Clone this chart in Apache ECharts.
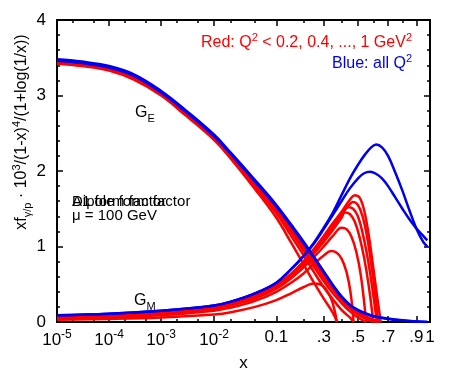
<!DOCTYPE html>
<html>
<head>
<meta charset="utf-8">
<script src="https://cdn.jsdelivr.net/npm/echarts@6/dist/echarts.min.js"></script>
<style>
html, body { margin: 0; padding: 0; background: #fff; }
#chart { width: 457px; height: 372px; }
</style>
</head>
<body>
<div id="chart"></div>
<script>
// x axis is drawn on a ln(x) + 5x scale
const xTicks = [1e-5, 1e-4, 1e-3, 1e-2, 0.1, 0.3, 0.5, 0.7, 0.9, 1];
const xTickLabels = ['{b|10}{s|-5}', '{b|10}{s|-4}', '{b|10}{s|-3}', '{b|10}{s|-2}', '0.1', '.3', '.5', '.7', '.9', '1'];
const xMinorTicks = [2e-5, 5e-5, 2e-4, 5e-4, 2e-3, 5e-3, 0.02, 0.05, 0.2, 0.4, 0.6, 0.8];

// G_E, all Q2 (blue)
const geBlueA = [[1e-5,3.48],[3e-5,3.45],[1e-4,3.39],[3e-4,3.28],[1e-3,3.06],[3e-3,2.80],[0.01,2.48],[0.02,2.24],[0.05,1.88],[0.1,1.55],[0.15,1.29],[0.2,1.07],[0.25,0.86],[0.3,0.67],[0.35,0.49],[0.4,0.34],[0.45,0.23],[0.5,0.16],[0.55,0.115],[0.6,0.08],[0.7,0.045],[0.8,0.022],[0.9,0.008],[0.98,0]];
const geBlueB = [[1e-5,3.46],[3e-5,3.43],[1e-4,3.37],[3e-4,3.26],[1e-3,3.04],[3e-3,2.78],[0.01,2.46],[0.02,2.22],[0.05,1.86],[0.1,1.53],[0.15,1.27],[0.2,1.05],[0.25,0.85],[0.3,0.66],[0.35,0.48],[0.4,0.33],[0.45,0.22],[0.5,0.155],[0.55,0.11],[0.6,0.075],[0.7,0.04],[0.8,0.02],[0.9,0.007],[0.98,0]];

// G_E, Q2 cuts (red)
const geRed1 = [[1e-5,3.42],[3e-5,3.39],[1e-4,3.33],[3e-4,3.21],[1e-3,3.00],[3e-3,2.73],[0.01,2.41],[0.02,2.16],[0.05,1.76],[0.1,1.38],[0.15,1.05],[0.2,0.77],[0.25,0.52],[0.3,0.31],[0.35,0.12],[0.373,0]];
const geRed2 = [[1e-5,3.43],[3e-5,3.40],[1e-4,3.34],[3e-4,3.22],[1e-3,3.01],[3e-3,2.75],[0.01,2.43],[0.02,2.18],[0.05,1.79],[0.1,1.44],[0.15,1.14],[0.2,0.89],[0.25,0.66],[0.3,0.46],[0.35,0.30],[0.4,0.16],[0.45,0.06],[0.473,0]];
const geRed3 = [[1e-5,3.43],[3e-5,3.40],[1e-4,3.35],[3e-4,3.23],[1e-3,3.02],[3e-3,2.76],[0.01,2.44],[0.02,2.19],[0.05,1.81],[0.1,1.47],[0.15,1.19],[0.2,0.95],[0.25,0.73],[0.3,0.54],[0.35,0.38],[0.4,0.25],[0.45,0.14],[0.5,0.06],[0.553,0]];
const geRed4 = [[1e-5,3.44],[3e-5,3.41],[1e-4,3.35],[3e-4,3.24],[1e-3,3.03],[3e-3,2.77],[0.01,2.45],[0.02,2.20],[0.05,1.83],[0.1,1.49],[0.15,1.22],[0.2,0.99],[0.25,0.78],[0.3,0.59],[0.35,0.43],[0.4,0.29],[0.45,0.18],[0.5,0.10],[0.55,0.04],[0.6,0]];
const geRed5 = [[1e-5,3.44],[3e-5,3.42],[1e-4,3.36],[3e-4,3.24],[1e-3,3.03],[3e-3,2.77],[0.01,2.45],[0.02,2.21],[0.05,1.84],[0.1,1.50],[0.15,1.23],[0.2,1.00],[0.25,0.80],[0.3,0.61],[0.35,0.45],[0.4,0.31],[0.45,0.20],[0.5,0.12],[0.55,0.06],[0.6,0.02],[0.624,0]];
const geRed6 = [[1e-5,3.45],[3e-5,3.42],[1e-4,3.36],[3e-4,3.25],[1e-3,3.04],[3e-3,2.78],[0.01,2.46],[0.02,2.21],[0.05,1.85],[0.1,1.51],[0.15,1.24],[0.2,1.01],[0.25,0.81],[0.3,0.62],[0.35,0.46],[0.4,0.32],[0.45,0.21],[0.5,0.13],[0.55,0.07],[0.6,0.03],[0.633,0]];
const geRed7 = [[1e-5,3.45],[3e-5,3.42],[1e-4,3.36],[3e-4,3.25],[1e-3,3.04],[3e-3,2.78],[0.01,2.46],[0.02,2.22],[0.05,1.85],[0.1,1.52],[0.15,1.25],[0.2,1.03],[0.25,0.82],[0.3,0.63],[0.35,0.46],[0.4,0.32],[0.45,0.21],[0.5,0.13],[0.55,0.07],[0.6,0.03],[0.65,0]];

// G_M, all Q2 (blue)
const gmBlueA = [[1e-5,0.09],[1e-4,0.11],[1e-3,0.15],[0.01,0.22],[0.02,0.27],[0.05,0.38],[0.1,0.52],[0.15,0.70],[0.2,0.87],[0.25,1.05],[0.3,1.25],[0.35,1.45],[0.4,1.68],[0.45,1.90],[0.5,2.08],[0.55,2.23],[0.59,2.32],[0.62,2.35],[0.66,2.31],[0.7,2.20],[0.75,1.98],[0.8,1.74],[0.85,1.48],[0.9,1.24],[0.95,1.06],[0.98,1.00]];
const gmBlueB = [[1e-5,0.09],[1e-4,0.11],[1e-3,0.15],[0.01,0.22],[0.02,0.27],[0.05,0.38],[0.1,0.52],[0.15,0.70],[0.2,0.87],[0.25,1.04],[0.3,1.23],[0.35,1.42],[0.4,1.60],[0.45,1.77],[0.5,1.90],[0.54,1.97],[0.58,1.99],[0.62,1.96],[0.66,1.90],[0.7,1.80],[0.75,1.65],[0.8,1.50],[0.85,1.36],[0.9,1.24],[0.95,1.14],[0.98,1.08]];

// G_M, Q2 cuts (red)
const gmRed1 = [[1e-5,0.03],[1e-4,0.04],[1e-3,0.06],[0.01,0.10],[0.02,0.13],[0.05,0.20],[0.1,0.29],[0.15,0.38],[0.2,0.46],[0.25,0.51],[0.28,0.50],[0.31,0.44],[0.34,0.31],[0.36,0.15],[0.373,0]];
const gmRed2 = [[1e-5,0.045],[1e-4,0.06],[1e-3,0.09],[0.01,0.15],[0.02,0.19],[0.05,0.28],[0.1,0.40],[0.15,0.52],[0.2,0.64],[0.25,0.77],[0.3,0.88],[0.34,0.94],[0.37,0.92],[0.4,0.84],[0.43,0.66],[0.455,0.38],[0.473,0]];
const gmRed3 = [[1e-5,0.055],[1e-4,0.07],[1e-3,0.11],[0.01,0.17],[0.02,0.22],[0.05,0.31],[0.1,0.44],[0.15,0.58],[0.2,0.72],[0.25,0.86],[0.3,1.00],[0.35,1.14],[0.4,1.25],[0.43,1.23],[0.46,1.13],[0.49,0.93],[0.52,0.60],[0.553,0]];
const gmRed4 = [[1e-5,0.06],[1e-4,0.08],[1e-3,0.12],[0.01,0.18],[0.02,0.23],[0.05,0.33],[0.1,0.46],[0.15,0.61],[0.2,0.76],[0.25,0.91],[0.3,1.06],[0.35,1.22],[0.4,1.38],[0.42,1.45],[0.45,1.43],[0.48,1.33],[0.51,1.13],[0.54,0.85],[0.57,0.48],[0.6,0]];
const gmRed5 = [[1e-5,0.065],[1e-4,0.085],[1e-3,0.125],[0.01,0.19],[0.02,0.24],[0.05,0.34],[0.1,0.47],[0.15,0.62],[0.2,0.78],[0.25,0.93],[0.3,1.09],[0.35,1.25],[0.4,1.41],[0.44,1.52],[0.47,1.50],[0.5,1.40],[0.53,1.18],[0.56,0.88],[0.59,0.50],[0.624,0]];
const gmRed6 = [[1e-5,0.07],[1e-4,0.09],[1e-3,0.13],[0.01,0.195],[0.02,0.245],[0.05,0.345],[0.1,0.48],[0.15,0.63],[0.2,0.79],[0.25,0.95],[0.3,1.11],[0.35,1.27],[0.4,1.43],[0.45,1.56],[0.47,1.59],[0.5,1.55],[0.53,1.40],[0.56,1.12],[0.59,0.72],[0.615,0.32],[0.633,0]];
const gmRed7 = [[1e-5,0.075],[1e-4,0.095],[1e-3,0.135],[0.01,0.20],[0.02,0.25],[0.05,0.35],[0.1,0.49],[0.15,0.64],[0.2,0.80],[0.25,0.97],[0.3,1.14],[0.35,1.31],[0.4,1.46],[0.45,1.62],[0.48,1.68],[0.51,1.65],[0.54,1.48],[0.57,1.15],[0.6,0.72],[0.625,0.35],[0.65,0]];

const RED = '#ff0000';
const BLUE = '#0000ee';
const FONT = 'Liberation Sans, Arial, Helvetica, sans-serif';

function T(x) { return Math.log(x) + 5 * x; }

function curve(pts, color, z) {
    return {
        type: 'line',
        data: pts.map(function (p) { return [T(p[0]), p[1]]; }),
        smooth: 0.4,
        showSymbol: false,
        silent: true,
        z: z,
        lineStyle: { color: color, width: 2.5 },
        itemStyle: { color: color }
    };
}

const majorVals = xTicks.map(T);
const minorVals = xMinorTicks.map(T);

function xAxisDef(pos, vals, len, labels) {
    return {
        type: 'value',
        position: pos,
        min: T(1e-5),
        max: T(1),
        axisLine: { show: labels !== null, onZero: false, lineStyle: { color: '#000', width: 2 } },
        axisTick: { show: true, inside: true, length: len, customValues: vals, lineStyle: { color: '#000', width: 1.5 } },
        axisLabel: labels ? {
            show: true,
            customValues: majorVals,
            margin: 7,
            color: '#000',
            fontFamily: FONT,
            fontSize: 17,
            formatter: function (v) {
                for (let i = 0; i < majorVals.length; i++) {
                    if (Math.abs(majorVals[i] - v) < 1e-6) return xTickLabels[i];
                }
                return '';
            },
            rich: {
                b: { fontFamily: FONT, fontSize: 17, lineHeight: 22, color: '#000' },
                s: { fontFamily: FONT, fontSize: 12, lineHeight: 12, verticalAlign: 'top', color: '#000' }
            }
        } : { show: false },
        splitLine: { show: false }
    };
}

function yAxisDef(pos, labels) {
    return {
        type: 'value',
        position: pos,
        min: 0,
        max: 4,
        interval: 1,
        axisLine: { show: true, onZero: false, lineStyle: { color: '#000', width: 2 } },
        axisTick: { show: true, inside: true, length: 6, lineStyle: { color: '#000', width: 1.5 } },
        minorTick: { show: true, splitNumber: 5, length: 3, lineStyle: { color: '#000', width: 1.5 } },
        axisLabel: { show: labels, margin: 11, color: '#000', fontFamily: FONT, fontSize: 17 },
        splitLine: { show: false }
    };
}

const series = [];
[geRed1, geRed2, geRed3, geRed4, geRed5, geRed6, geRed7].forEach(function (d) { series.push(curve(d, RED, 2)); });
[gmRed1, gmRed2, gmRed3, gmRed4, gmRed5, gmRed6, gmRed7].forEach(function (d) { series.push(curve(d, RED, 2)); });
[geBlueA, geBlueB, gmBlueA, gmBlueB].forEach(function (d) { series.push(curve(d, BLUE, 3)); });

const chart = echarts.init(document.getElementById('chart'), null, { renderer: 'canvas' });
chart.setOption({
    animation: false,
    backgroundColor: '#fff',
    grid: { left: 57, right: 27, top: 20, bottom: 50, containLabel: false, outerBoundsMode: 'none' },
    xAxis: [
        Object.assign(xAxisDef('bottom', majorVals, 6, true), { name: 'x', nameLocation: 'middle', nameGap: 33, nameTextStyle: { fontFamily: FONT, fontSize: 17, color: '#000' } }),
        xAxisDef('bottom', minorVals, 3, false),
        xAxisDef('top', majorVals, 6, false),
        xAxisDef('top', minorVals, 3, false)
    ],
    yAxis: [yAxisDef('left', true), yAxisDef('right', false)],
    series: series,
    graphic: [
        {
            type: 'text', x: 22, y: 132, rotation: Math.PI / 2, silent: true, z: 10,
            style: {
                text: '{n|xf}{sub|γ/p}{n| · 10}{sup|3}{n|/(1-x)}{sup|4}{n|/(1+log(1/x))}',
                textAlign: 'center', textVerticalAlign: 'middle',
                rich: {
                    n: { fontFamily: FONT, fontSize: 16, lineHeight: 22, fill: '#000' },
                    sup: { fontFamily: FONT, fontSize: 11, lineHeight: 13, verticalAlign: 'top', fill: '#000' },
                    sub: { fontFamily: FONT, fontSize: 11, lineHeight: 13, verticalAlign: 'bottom', fill: '#000' }
                }
            }
        },
        {
            type: 'text', x: 412, y: 43, silent: true, z: 10,
            style: {
                text: '{n|Red: Q}{sup|2}{n| < 0.2, 0.4, ..., 1 GeV}{sup|2}',
                textAlign: 'right', textVerticalAlign: 'middle',
                rich: {
                    n: { fontFamily: FONT, fontSize: 16, lineHeight: 22, fill: RED },
                    sup: { fontFamily: FONT, fontSize: 11, lineHeight: 13, verticalAlign: 'top', fill: RED }
                }
            }
        },
        {
            type: 'text', x: 412, y: 64, silent: true, z: 10,
            style: {
                text: '{n|Blue: all Q}{sup|2}',
                textAlign: 'right', textVerticalAlign: 'middle',
                rich: {
                    n: { fontFamily: FONT, fontSize: 16, lineHeight: 22, fill: BLUE },
                    sup: { fontFamily: FONT, fontSize: 11, lineHeight: 13, verticalAlign: 'top', fill: BLUE }
                }
            }
        },
        {
            type: 'text', x: 135, y: 113, silent: true, z: 10,
            style: {
                text: '{n|G}{sub|E}',
                textAlign: 'left', textVerticalAlign: 'middle',
                rich: {
                    n: { fontFamily: FONT, fontSize: 16, lineHeight: 22, fill: '#000' },
                    sub: { fontFamily: FONT, fontSize: 11, lineHeight: 13, verticalAlign: 'bottom', fill: '#000' }
                }
            }
        },
        {
            type: 'text', x: 134, y: 301, silent: true, z: 10,
            style: {
                text: '{n|G}{sub|M}',
                textAlign: 'left', textVerticalAlign: 'middle',
                rich: {
                    n: { fontFamily: FONT, fontSize: 16, lineHeight: 22, fill: '#000' },
                    sub: { fontFamily: FONT, fontSize: 11, lineHeight: 13, verticalAlign: 'bottom', fill: '#000' }
                }
            }
        },
        {
            type: 'text', x: 72, y: 202, silent: true, z: 10,
            style: { text: 'Dipole form factor', font: '15px ' + FONT, fill: '#000', textAlign: 'left', textVerticalAlign: 'middle' }
        },
        {
            type: 'text', x: 72, y: 202, silent: true, z: 10,
            style: { text: 'A1 form factor', font: '15px ' + FONT, fill: '#000', textAlign: 'left', textVerticalAlign: 'middle' }
        },
        {
            type: 'text', x: 72, y: 216, silent: true, z: 10,
            style: { text: 'μ = 100 GeV', font: '15px ' + FONT, fill: '#000', textAlign: 'left', textVerticalAlign: 'middle' }
        }
    ]
});
</script>
</body>
</html>
